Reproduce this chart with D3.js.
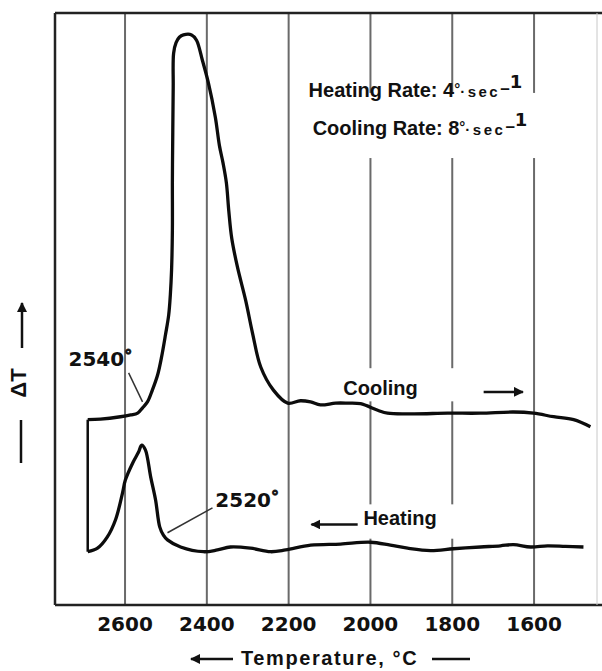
<!DOCTYPE html>
<html><head><meta charset="utf-8">
<script src="https://cdn.jsdelivr.net/npm/d3@7"></script>
<style>body{margin:0;background:#fff}</style>
</head><body>
<svg id="c" width="602" height="671"></svg>
<script>
// ---- data ----
const tempTicks = [2600, 2400, 2200, 2000, 1800, 1600];
const tickLabels = ["2600", "2400", "2200", "2000", "1800", "1600"];

const coolingT  = [2690, 2659, 2610, 2585, 2568, 2556, 2544, 2532, 2519, 2510, 2500, 2492, 2488, 2485, 2483, 2483, 2482, 2481, 2480, 2474, 2466, 2456, 2436, 2424, 2410, 2395, 2378, 2368, 2359, 2351, 2345, 2338, 2324, 2304, 2287, 2267, 2236, 2201, 2170, 2145, 2121, 2084, 2055, 2023, 1981, 1957, 1893, 1810, 1730, 1649, 1600, 1551, 1502, 1461];
const coolingDT = [31.3, 31.4, 31.8, 32.1, 32.4, 33.3, 34.3, 36.3, 38.9, 41.7, 45.6, 49.0, 52.4, 56.6, 63.3, 71.8, 80.2, 87.5, 93.2, 95.0, 95.9, 96.3, 96.3, 95.4, 92.1, 88.2, 82.4, 77.6, 74.6, 71.3, 66.5, 62.0, 57.1, 51.5, 45.9, 40.2, 36.3, 34.1, 34.5, 34.3, 33.8, 34.1, 34.1, 34.0, 32.9, 32.4, 32.3, 32.4, 32.4, 32.6, 32.4, 31.8, 31.3, 30.1];

const heatingT  = [2690, 2666, 2642, 2622, 2605, 2598, 2580, 2566, 2558, 2549, 2536, 2524, 2514, 2505, 2495, 2463, 2407, 2373, 2341, 2292, 2243, 2206, 2145, 2072, 1999, 1950, 1908, 1852, 1796, 1730, 1681, 1649, 1607, 1566, 1522, 1478];
const heatingDT = [9.0, 9.6, 11.5, 14.4, 18.9, 21.1, 24.0, 25.8, 27.0, 26.2, 21.6, 17.7, 13.2, 11.8, 11.0, 9.8, 9.0, 9.3, 9.8, 9.6, 9.0, 9.3, 10.1, 10.3, 10.6, 10.1, 9.6, 9.2, 9.5, 9.8, 10.0, 10.2, 9.8, 10.0, 9.9, 9.8];

// annotations: label, label position (T, dT), pointer from / to (T, dT)
const annoLabels = ["2540", "2520"];
const annoLabelT = [2737, 2378];
const annoLabelDT = [40.4, 16.6];
const annoFromT = [2590, 2495];
const annoFromDT = [39.2, 12.2];
const annoToT = [2556, 2385];
const annoToDT = [34.3, 16.4];

const seriesNames = ["Cooling", "Heating"];
const seriesLabelT = [2065, 2016];
const seriesLabelDT = [35.5, 13.5];
const arrowFromT = [1722, 2030];
const arrowToT = [1626, 2143];
const arrowDT = [36.0, 13.6];

const rateNames = ["Heating Rate:", "Cooling Rate:"];
const rateValues = ["4", "8"];
const rateT = [2150, 2140];
const rateDT = [85.8, 79.4];

// ---- layout ----
const svg = d3.select("#c");
const L = 55, R = 599, T = 13, B = 605;
const x = d3.scaleLinear().domain([2770, 1440]).range([L, R]);
const y = d3.scaleLinear().domain([0, 100]).range([B, T]);

svg.append("defs").append("marker")
  .attr("id", "ah").attr("viewBox", "0 0 10 10").attr("refX", 9).attr("refY", 5)
  .attr("markerWidth", 4).attr("markerHeight", 4).attr("orient", "auto-start-reverse")
  .append("path").attr("d", "M0,0 L10,5 L0,10 z").attr("fill", "#111");

// gridlines + tick labels via axis
const ax = svg.append("g").attr("transform", `translate(0,${B})`)
  .call(d3.axisBottom(x).tickValues(tempTicks)
    .tickFormat((d, i) => tickLabels[i]).tickSize(-(B - T)).tickPadding(12));
ax.select(".domain").remove();
ax.selectAll(".tick line").attr("stroke", "#6a6a6a").attr("stroke-width", 2);
ax.selectAll(".tick text").attr("font-family", "DejaVu Sans").attr("font-weight", "bold")
  .attr("font-size", 20).attr("fill", "#111");

// frame
svg.append("line").attr("x1", L).attr("x2", 602).attr("y1", T).attr("y2", T).attr("stroke", "#222").attr("stroke-width", 2.5);
svg.append("line").attr("x1", L).attr("x2", 602).attr("y1", B).attr("y2", B).attr("stroke", "#222").attr("stroke-width", 2.5);
svg.append("line").attr("x1", L).attr("x2", L).attr("y1", T).attr("y2", B).attr("stroke", "#222").attr("stroke-width", 2.5);
svg.append("line").attr("x1", 597).attr("x2", 597).attr("y1", T).attr("y2", B).attr("stroke", "#c8c8c8").attr("stroke-width", 1);

// white patches behind labels (interrupt gridlines as in original)
const patches = [[2160, 1515, 86.5, 75.5], [2075, 1608, 40.0, 34.4], [2165, 1780, 17.0, 11.2]];
patches.forEach(p => svg.append("rect").attr("x", x(p[0])).attr("y", y(p[2]))
  .attr("width", x(p[1]) - x(p[0])).attr("height", y(p[3]) - y(p[2])).attr("fill", "#fff"));

// curves
const line = d3.line().x(d => x(d[0])).y(d => y(d[1])).curve(d3.curveCatmullRom.alpha(0.5));
const cool = coolingT.map((t, i) => [t, coolingDT[i]]);
const heat = heatingT.map((t, i) => [t, heatingDT[i]]);
[cool, heat].forEach(s => svg.append("path").attr("d", line(s)).attr("fill", "none")
  .attr("stroke", "#0c0c0c").attr("stroke-width", 3.3).attr("stroke-linejoin", "round"));
// vertical connector between the start of the heating and cooling traces
svg.append("line").attr("x1", x(heatingT[0])).attr("x2", x(coolingT[0]))
  .attr("y1", y(heatingDT[0])).attr("y2", y(coolingDT[0])).attr("stroke", "#0c0c0c").attr("stroke-width", 2.5);

// annotations
annoLabels.forEach((lab, i) => {
  svg.append("line").attr("x1", x(annoFromT[i])).attr("y1", y(annoFromDT[i]))
    .attr("x2", x(annoToT[i])).attr("y2", y(annoToDT[i])).attr("stroke", "#333").attr("stroke-width", 1.5);
  const t = svg.append("text").attr("x", x(annoLabelT[i])).attr("y", y(annoLabelDT[i]))
    .attr("font-family", "DejaVu Sans").attr("font-weight", "bold").attr("font-size", 20).attr("fill", "#111");
  t.append("tspan").text(lab);
  t.append("tspan").text("°").attr("font-size", 16).attr("dy", -5).attr("stroke", "#111").attr("stroke-width", 0.8);
});

// series labels and arrows
seriesNames.forEach((n, i) => {
  svg.append("text").attr("x", x(seriesLabelT[i])).attr("y", y(seriesLabelDT[i]))
    .attr("font-family", "Liberation Sans").attr("font-weight", "bold").attr("font-size", 20)
    .attr("fill", "#111").text(n);
  svg.append("line").attr("x1", x(arrowFromT[i])).attr("x2", x(arrowToT[i]))
    .attr("y1", y(arrowDT[i])).attr("y2", y(arrowDT[i])).attr("stroke", "#111").attr("stroke-width", 2.5)
    .attr("marker-end", "url(#ah)");
});

// rate text
rateNames.forEach((r, i) => {
  const t = svg.append("text").attr("x", x(rateT[i])).attr("y", y(rateDT[i]))
    .attr("font-family", "Liberation Sans").attr("font-weight", "bold").attr("font-size", 20).attr("fill", "#111");
  t.append("tspan").text(r + "  " + rateValues[i]);
  t.append("tspan").text("°").attr("font-size", 15).attr("dy", -3);
  t.append("tspan").text("·sec").attr("font-size", 15).attr("letter-spacing", 2.5).attr("dy", 3);
  t.append("tspan").text("–").attr("font-size", 17).attr("dy", -3);
  t.append("tspan").text("1").attr("font-size", 18).attr("dy", -6).attr("font-family", "DejaVu Sans");
});

// y-axis label  — ΔT →
svg.append("line").attr("x1", 21).attr("x2", 21).attr("y1", 463).attr("y2", 420).attr("stroke", "#111").attr("stroke-width", 2.5);
svg.append("line").attr("x1", 22).attr("x2", 22).attr("y1", 348).attr("y2", 303).attr("stroke", "#111").attr("stroke-width", 2.5).attr("marker-end", "url(#ah)");
svg.append("text").attr("transform", "translate(26,383) rotate(-90)").attr("text-anchor", "middle")
  .attr("font-family", "Liberation Sans").attr("font-weight", "bold").attr("font-size", 22).attr("fill", "#111").text("ΔT");

// x-axis title ←— Temperature, °C —
svg.append("line").attr("x1", 233).attr("x2", 191).attr("y1", 659).attr("y2", 659).attr("stroke", "#111").attr("stroke-width", 2.5).attr("marker-end", "url(#ah)");
svg.append("line").attr("x1", 432).attr("x2", 470).attr("y1", 659).attr("y2", 659).attr("stroke", "#111").attr("stroke-width", 2.5);
svg.append("text").attr("x", 241).attr("y", 665).attr("font-family", "Liberation Sans").attr("font-weight", "bold")
  .attr("font-size", 20).attr("letter-spacing", 1.6).attr("fill", "#111").text("Temperature, °C");
</script>
</body></html>
